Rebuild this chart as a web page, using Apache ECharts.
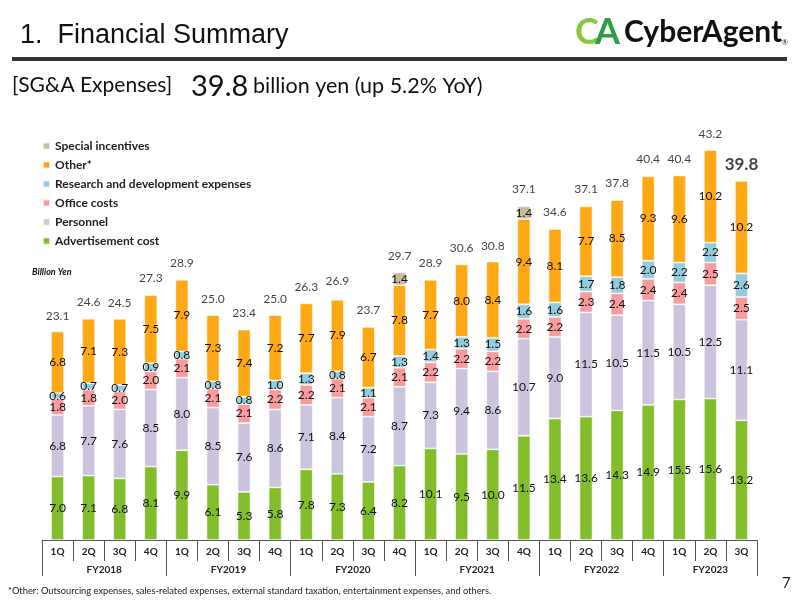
<!DOCTYPE html>
<html lang="en">
<head>
    <meta charset="UTF-8">
    <title>SG&amp;A Expenses</title>
    <script src="https://cdn.jsdelivr.net/npm/echarts@6/dist/echarts.min.js"></script>
    <style>
        body { margin: 0; background: #fff; }
    </style>
</head>
<body>
    <div id="graph" style="width: 800px; height: 600px;"></div>

    <script>
        // fiscal years and how many quarters each one has on the chart
        var fiscalYears = ['FY2018', 'FY2019', 'FY2020', 'FY2021', 'FY2022', 'FY2023'];
        var quartersPerYear = [4, 4, 4, 4, 4, 3];

        // values in billion yen, one per quarter (FY2018 1Q .. FY2023 3Q)
        var advertisement = [7.0, 7.1, 6.8, 8.1, 9.9, 6.1, 5.3, 5.8, 7.8, 7.3, 6.4, 8.2, 10.1, 9.5, 10.0, 11.5, 13.4, 13.6, 14.3, 14.9, 15.5, 15.6, 13.2];
        var personnel = [6.8, 7.7, 7.6, 8.5, 8.0, 8.5, 7.6, 8.6, 7.1, 8.4, 7.2, 8.7, 7.3, 9.4, 8.6, 10.7, 9.0, 11.5, 10.5, 11.5, 10.5, 12.5, 11.1];
        var office = [1.8, 1.8, 2.0, 2.0, 2.1, 2.1, 2.1, 2.2, 2.2, 2.1, 2.1, 2.1, 2.2, 2.2, 2.2, 2.2, 2.2, 2.3, 2.4, 2.4, 2.4, 2.5, 2.5];
        var research = [0.6, 0.7, 0.7, 0.9, 0.8, 0.8, 0.8, 1.0, 1.3, 0.8, 1.1, 1.3, 1.4, 1.3, 1.5, 1.6, 1.6, 1.7, 1.8, 2.0, 2.2, 2.2, 2.6];
        var other = [6.8, 7.1, 7.3, 7.5, 7.9, 7.3, 7.4, 7.2, 7.7, 7.9, 6.7, 7.8, 7.7, 8.0, 8.4, 9.4, 8.1, 7.7, 8.5, 9.3, 9.6, 10.2, 10.2];
        var special = [null, null, null, null, null, null, null, null, null, null, null, 1.4, null, null, null, 1.4, null, null, null, null, null, null, null];
        var totals = [23.1, 24.6, 24.5, 27.3, 28.9, 25.0, 23.4, 25.0, 26.3, 26.9, 23.7, 29.7, 28.9, 30.6, 30.8, 37.1, 34.6, 37.1, 37.8, 40.4, 40.4, 43.2, 39.8];

        var font = 'Lato, "Noto Sans", sans-serif';

        // quarter labels and fiscal year group boundaries
        var quarters = [];
        var fyTicks = [0];
        var fyCenters = [];
        var pos = 0;
        for (var y = 0; y < fiscalYears.length; y++) {
            for (var q = 1; q <= quartersPerYear[y]; q++) {
                quarters.push(q + 'Q');
            }
            fyCenters.push(pos + quartersPerYear[y] / 2);
            pos += quartersPerYear[y];
            fyTicks.push(pos);
        }

        var segLabel = {
            show: true,
            position: 'inside',
            color: '#111',
            fontSize: 12,
            fontFamily: font,
            formatter: function (p) { return p.value == null ? '' : p.value.toFixed(1); }
        };

        function stackSeries(name, data, color) {
            return {
                name: name,
                type: 'bar',
                stack: 'total',
                barWidth: 13,
                data: data,
                itemStyle: { color: color, borderColor: 'rgba(255,255,255,0.7)', borderWidth: 0.8 },
                label: segLabel
            };
        }

        var totalData = totals.map(function (v, i) {
            if (i === totals.length - 1) {
                return { value: v, label: { fontSize: 17, fontWeight: 'bold', distance: 6 } };
            }
            return v;
        });

        var s = [
            stackSeries('Advertisement cost', advertisement, '#84bd2b'),
            stackSeries('Personnel', personnel, '#ccc3dc'),
            stackSeries('Office costs', office, '#f89b9e'),
            stackSeries('Research and development expenses', research, '#93cddc'),
            stackSeries('Other*', other, '#ffa815'),
            stackSeries('Special incentives', special, '#c4be9c'),
            {
                name: 'total',
                type: 'scatter',
                data: totalData,
                symbolSize: 1,
                itemStyle: { color: 'rgba(0,0,0,0)' },
                label: {
                    show: true,
                    position: 'top',
                    distance: 8,
                    color: '#111',
                    fontSize: 12,
                    fontFamily: font,
                    formatter: function (p) { return p.value.toFixed(1); }
                },
                z: 5
            }
        ];

        var myChart = echarts.init(document.getElementById('graph'));
        var option = {
            animation: false,
            textStyle: { fontFamily: font },
            legend: {
                data: ['Special incentives', 'Other*', 'Research and development expenses', 'Office costs', 'Personnel', 'Advertisement cost'],
                orient: 'vertical',
                left: 37,
                top: 134,
                itemWidth: 7,
                itemHeight: 7,
                itemGap: 5,
                icon: 'rect',
                textStyle: { fontSize: 12, fontWeight: 'bold', color: '#222', lineHeight: 14, fontFamily: font }
            },
            grid: { left: 42, right: 43, top: 132, bottom: 60 },
            yAxis: {
                type: 'value',
                min: 0,
                max: 45,
                show: false
            },
            xAxis: [
                {
                    type: 'category',
                    data: quarters,
                    axisLine: { lineStyle: { color: '#555', width: 1 } },
                    axisTick: { show: true, length: 21, lineStyle: { color: '#555' } },
                    axisLabel: { color: '#222', fontSize: 10, fontWeight: 'bold', margin: 7, fontFamily: font }
                },
                {
                    type: 'value',
                    min: 0,
                    max: quarters.length,
                    position: 'bottom',
                    axisLine: { show: false },
                    splitLine: { show: false },
                    axisTick: {
                        show: true,
                        length: 36,
                        customValues: fyTicks,
                        lineStyle: { color: '#555' }
                    },
                    axisLabel: {
                        customValues: fyCenters,
                        margin: 25,
                        color: '#222',
                        fontSize: 10,
                        fontWeight: 'bold',
                        fontFamily: font,
                        formatter: function (v) {
                            return fiscalYears[fyCenters.indexOf(v)] || '';
                        }
                    }
                }
            ],
            graphic: [
                {
                    type: 'text', left: 20, top: 22,
                    style: { text: '1.  Financial Summary', font: '500 27px "Liberation Sans", sans-serif', fill: '#111' }
                },
                {
                    type: 'rect', left: 12, top: 57,
                    shape: { width: 775, height: 4 },
                    style: { fill: '#333' }
                },
                {
                    type: 'text', left: 575, top: 14,
                    style: { text: 'C', font: 'bold 36px ' + font, fill: '#8cc63f' }
                },
                {
                    type: 'text', left: 595, top: 14,
                    style: { text: 'A', font: 'bold 36px ' + font, fill: '#2e9e43' }
                },
                {
                    type: 'text', left: 624, top: 17,
                    style: { text: 'CyberAgent', font: 'bold 30px ' + font, fill: '#111' }
                },
                {
                    type: 'text', left: 782, top: 39,
                    style: { text: '®', font: '7px ' + font, fill: '#111' }
                },
                {
                    type: 'text', left: 12, top: 75,
                    style: { text: '[SG&A Expenses]', font: '21px ' + font, fill: '#111' }
                },
                {
                    type: 'text', left: 191, top: 72,
                    style: { text: '39.8', font: '29px ' + font, fill: '#111' }
                },
                {
                    type: 'text', left: 253, top: 75,
                    style: { text: 'billion yen (up 5.2% YoY)', font: '21.5px ' + font, fill: '#111' }
                },
                {
                    type: 'text', left: 32, top: 268,
                    style: { text: 'Billion Yen', font: 'italic bold 9px ' + font, fill: '#111' }
                },
                {
                    type: 'text', left: 8, top: 586,
                    style: { text: '*Other: Outsourcing expenses, sales-related expenses, external standard taxation, entertainment expenses, and others.', font: '9.3px ' + font, fill: '#222' }
                },
                {
                    type: 'text', left: 782, top: 576,
                    style: { text: '7', font: '15px ' + font, fill: '#222' }
                }
            ],
            series: s
        };
        myChart.setOption(option);
    </script>
</body>
</html>
